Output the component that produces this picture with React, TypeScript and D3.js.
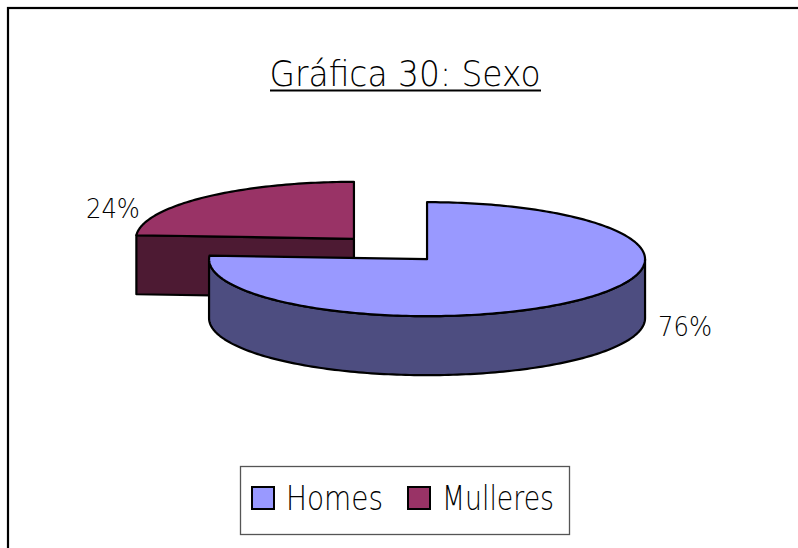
import React from 'react';
import * as d3 from 'd3';

const categories = ['Homes', 'Mulleres'];
const values = [76, 24];
const labels = ['76%', '24%'];
const topColors = ['#9999FF', '#993366'];
const sideColors = ['#4D4D80', '#4D1A33'];

const W = 798;
const H = 548;
const FONT = "'DejaVu Sans', sans-serif";

export default function App() {
  // 3D pie geometry, Excel style, seen from the front and above
  const cx = 390.5;
  const cy = 249;
  const rx = 218;
  const ry = 57;
  const depth = 59;
  const explode = 53.4;

  const pie = d3.pie<number>().sort(null).value(d => d)(values);

  const pt = (c: [number, number], a: number, dz = 0): [number, number] => [
    c[0] + rx * Math.sin(a),
    c[1] - ry * Math.cos(a) + dz
  ];

  const arcPts = (c: [number, number], a0: number, a1: number, dz = 0) => {
    const n = Math.max(2, Math.ceil(Math.abs(a1 - a0) / 0.02));
    return d3.range(n + 1).map(i => pt(c, a0 + ((a1 - a0) * i) / n, dz));
  };

  const line = d3.line();

  const slices = pie.map((p, i) => {
    const mid = (p.startAngle + p.endAngle) / 2;
    const c: [number, number] = [
      cx + explode * Math.sin(mid),
      cy - explode * (ry / rx) * Math.cos(mid)
    ];
    return { p, i, mid, c };
  });

  // back slices first
  const order = [...slices].sort((a, b) => a.c[1] - b.c[1]);

  return (
    <svg width={W} height={H} style={{ position: 'absolute', left: 0, top: 0, display: 'block', background: '#fff' }}>
      <rect x={8} y={8} width={W + 20} height={H + 20} fill="#fff" stroke="#000" strokeWidth={2.2} />

      <text x={405} y={86} textAnchor="middle" fontFamily={FONT} fontSize={36} fontWeight={200}
        textLength={271} lengthAdjust="spacingAndGlyphs" fill="#000">
        Gráfica 30: Sexo
      </text>
      <line x1={270} x2={541} y1={90.5} y2={90.5} stroke="#000" strokeWidth={2} />

      {order.map(({ p, i, c }) => {
        const a0 = p.startAngle;
        const a1 = p.endAngle;
        const parts: JSX.Element[] = [];
        // radial cut faces that turn toward the viewer
        [a0, a1].forEach((a, k) => {
          const visible = (k === 0 && Math.sin(a) < -0.01 && Math.cos(a) > 0) ||
            (k === 1 && Math.sin(a) > 0.01 && Math.cos(a) > 0);
          if (visible) {
            const e = pt(c, a);
            const d = line([c, e, [e[0], e[1] + depth], [c[0], c[1] + depth]]) + 'Z';
            parts.push(<path key={'f' + k} d={d} fill={sideColors[i]} stroke="#000" strokeWidth={2.2} strokeLinejoin="round" />);
          }
        });
        // outer wall, visible between 90° and 270°
        const w0 = Math.max(a0, Math.PI / 2);
        const w1 = Math.min(a1, (3 * Math.PI) / 2);
        if (w1 > w0) {
          const d = line([...arcPts(c, w0, w1), ...arcPts(c, w1, w0, depth)]) + 'Z';
          parts.push(<path key="w" d={d} fill={sideColors[i]} stroke="#000" strokeWidth={2.2} strokeLinejoin="round" />);
        }
        const top = line([c, ...arcPts(c, a0, a1)]) + 'Z';
        parts.push(<path key="t" d={top} fill={topColors[i]} stroke="#000" strokeWidth={2.2} strokeLinejoin="round" />);
        return <g key={categories[i]}>{parts}</g>;
      })}

      {slices.map(({ i, mid, c }) => {
        const right = Math.sin(mid) > 0;
        const x = right ? c[0] + rx + 13 : c[0] - rx + 4;
        const y = right ? c[1] + ry + 20 : c[1] - 21;
        return (
          <text key={'l' + i} x={x} y={y} textAnchor={right ? 'start' : 'end'} fontFamily={FONT}
            fontSize={27} fontWeight={200} textLength={54} lengthAdjust="spacingAndGlyphs" fill="#000">
            {labels[i]}
          </text>
        );
      })}

      <rect x={240.5} y={466.5} width={329} height={68} fill="#fff" stroke="#555" strokeWidth={1.3} />
      {categories.map((cat, i) => {
        const sx = [252, 408][i];
        const tw = [97, 112][i];
        return (
          <g key={'lg' + cat}>
            <rect x={sx} y={487} width={22} height={22} fill={topColors[i]} stroke="#000" strokeWidth={2} />
            <text x={sx + 34} y={510} fontFamily={FONT} fontSize={33} fontWeight={200}
              textLength={tw} lengthAdjust="spacingAndGlyphs" fill="#000">{cat}</text>
          </g>
        );
      })}
    </svg>
  );
}
